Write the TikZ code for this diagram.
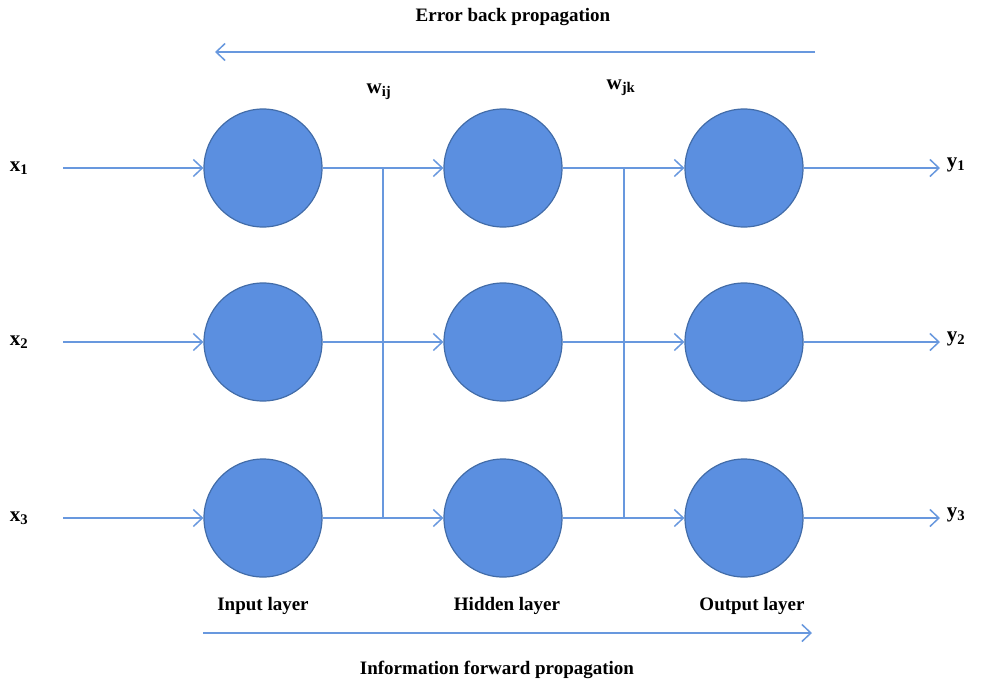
\documentclass[tikz,border=0pt]{standalone}
\usepackage{fontspec}
\setmainfont{Liberation Serif}
\usetikzlibrary{arrows.meta}
\definecolor{nfill}{RGB}{91,143,224}
\definecolor{nborder}{RGB}{66,108,168}
\definecolor{lcol}{RGB}{104,152,222}
\tikzset{
  neuron/.style={circle, fill=nfill, draw=nborder, line width=1.2pt, minimum size=118pt, inner sep=0pt},
  conn/.style={draw=lcol, line width=1.8pt},
  arr/.style={conn, -{Straight Barb[length=9pt,width=17pt,line width=1.5pt]}},
  lbl/.style={font=\fontsize{19}{21}\selectfont\bfseries, inner sep=0pt},
  vlbl/.style={font=\fontsize{21}{23}\selectfont\bfseries, inner sep=0pt},
}
\begin{document}
\begin{tikzpicture}[x=1pt,y=-1pt]
\useasboundingbox (0,0) rectangle (995,686);
% neurons
\foreach \r/\y in {1/168,2/342,3/518}{
  \node[neuron] (i\r) at (263,\y) {};
  \node[neuron] (h\r) at (503,\y) {};
  \node[neuron] (o\r) at (744,\y) {};
}
% input labels and arrows
\foreach \r/\y in {1/168,2/342,3/518}{
  \node[vlbl] (x\r) at (19,\y) {x\textsubscript{\r}};
  \coordinate (xs\r) at (63,\y);
  \draw[arr] (xs\r) -- (i\r);
  \node[vlbl] (y\r) at (956,\y-3) {y\textsubscript{\r}};
  \coordinate (ye\r) at (940,\y);
  \draw[arr] (o\r) -- (ye\r);
}
% junctions
\foreach \r/\y in {1/168,2/342,3/518}{
  \coordinate (ja\r) at (383,\y);
  \coordinate (jb\r) at (624,\y);
  \draw[arr] (i\r) -- (h\r);
  \draw[arr] (h\r) -- (o\r);
}
\draw[conn] (ja1) -- (ja3);
\draw[conn] (jb1) -- (jb3);
% weights
\node[vlbl] (wij) at (379,92) {w\textsubscript{ij}};
\node[vlbl] (wjk) at (621,88) {w\textsubscript{jk}};
% top arrow
\node[lbl] (err) at (513,17) {Error back propagation};
\coordinate (ts) at (815,52);
\coordinate (te) at (215,52);
\draw[arr] (ts) -- (te);
% bottom
\node[lbl] (il) at (263,606) {Input layer};
\node[lbl] (hl) at (507,606) {Hidden layer};
\node[lbl] (ol) at (752,606) {Output layer};
\coordinate (bs) at (203,633);
\coordinate (be) at (812,633);
\draw[arr] (bs) -- (be);
\node[lbl] (info) at (497,670) {Information forward propagation};
\end{tikzpicture}
\end{document}
